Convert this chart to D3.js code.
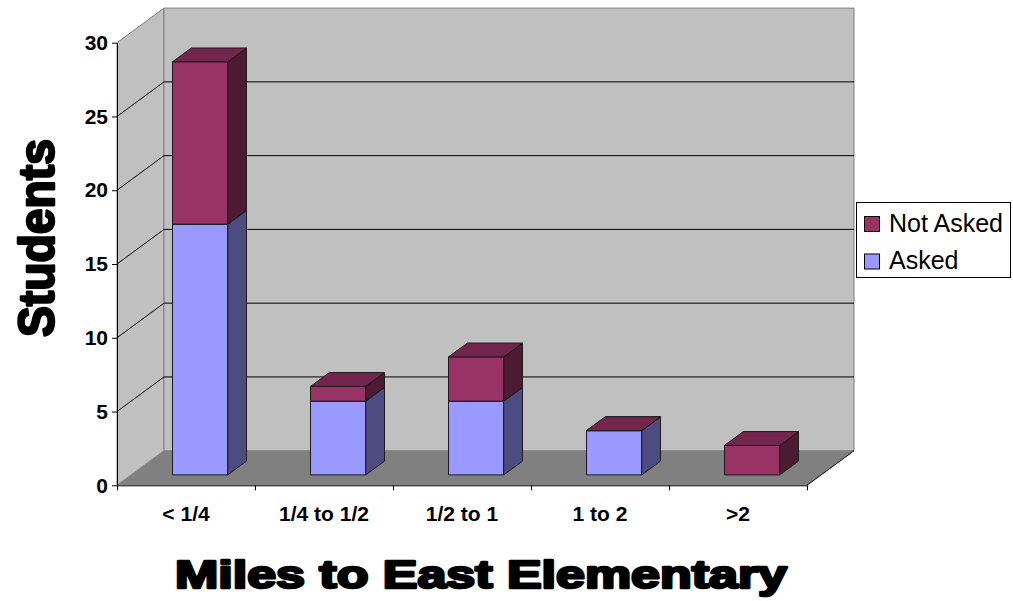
<!DOCTYPE html>
<html>
<head>
<meta charset="utf-8">
<script src="https://cdn.jsdelivr.net/npm/d3@7"></script>
<style>
  html, body { margin: 0; padding: 0; background: #ffffff; }
  svg { display: block; }
  text { font-family: Arial, "Liberation Sans", sans-serif; }
</style>
</head>
<body>
<svg id="chart" width="1013" height="601"></svg>
<script>
// Distance bands and the two answer groups
const categories = ["< 1/4", "1/4 to 1/2", "1/2 to 1", "1 to 2", ">2"];
const asked = [17, 5, 5, 3, 0];
const notAsked = [11, 1, 3, 0, 2];
const yTicks = [0, 5, 10, 15, 20, 25, 30];
const seriesNames = ["Asked", "Not Asked"];

const svg = d3.select("#chart");

// Front plane of the 3-D box and its depth offset
const x0 = 117, x1 = 807, yBase = 485.3, yTop = 42.7;
const DX = 47, DY = -34.6;
const proj = (x, y, z) => [x + z * DX, y + z * DY];

const x = d3.scaleBand().domain(categories).range([x0, x1])
  .paddingInner(0.6).paddingOuter(0.3);
const xEdge = d3.scaleLinear().domain([0, categories.length]).range([x0, x1]);
const y = d3.scaleLinear().domain([0, 30]).range([yBase, yTop]);

const colors = {
  "Asked":     { front: "#9999ff", side: "#4c4c80", top: "#7373bf" },
  "Not Asked": { front: "#993366", side: "#4d1a33", top: "#73264d" }
};

const poly = pts => pts.map(p => p.join(",")).join(" ");
const tickFont = 21;

// Walls and floor
const g = svg.append("g");
// side (left) wall
g.append("polygon")
  .attr("points", poly([proj(x0, y(30), 0), proj(x0, y(30), 1), proj(x0, y(0), 1), proj(x0, y(0), 0)]))
  .attr("fill", "#c0c0c0").attr("stroke", "#808080").attr("stroke-width", 1);
// back wall
g.append("polygon")
  .attr("points", poly([proj(x0, y(30), 1), proj(x1, y(30), 1), proj(x1, y(0), 1), proj(x0, y(0), 1)]))
  .attr("fill", "#c0c0c0").attr("stroke", "#808080").attr("stroke-width", 1);
// floor
g.append("polygon")
  .attr("points", poly([proj(x0, y(0), 0), proj(x1, y(0), 0), proj(x1, y(0), 1), proj(x0, y(0), 1)]))
  .attr("fill", "#808080").attr("stroke", "none");
g.append("line")
  .attr("x1", proj(x1, y(0), 0)[0]).attr("y1", proj(x1, y(0), 0)[1])
  .attr("x2", proj(x1, y(0), 1)[0]).attr("y2", proj(x1, y(0), 1)[1])
  .attr("stroke", "#000").attr("stroke-width", 1);

// gridlines on side and back walls
const grid = yTicks.filter(v => v > 0 && v < 30);
grid.forEach(v => {
  const a = proj(x0, y(v), 0), b = proj(x0, y(v), 1), c = proj(x1, y(v), 1);
  g.append("polyline").attr("points", poly([a, b, c]))
    .attr("fill", "none").attr("stroke", "#000").attr("stroke-width", 1);
});

// Y axis
svg.append("g")
  .attr("transform", `translate(${x0},0)`)
  .call(d3.axisLeft(y).tickValues(yTicks).tickSize(5).tickSizeOuter(0).tickPadding(4))
  .call(s => s.select(".domain").attr("stroke", "#000"))
  .call(s => s.selectAll("text").attr("font-size", tickFont).attr("font-weight", "bold").attr("fill", "#000")
    .attr("font-family", "Arial, 'Liberation Sans', sans-serif"));

// X axis: tick marks on band edges, labels centred in each band
svg.append("g")
  .attr("transform", `translate(0,${yBase})`)
  .call(d3.axisBottom(xEdge).tickValues(d3.range(categories.length + 1)).tickFormat("").tickSize(5).tickSizeOuter(0))
  .call(s => s.select(".domain").attr("stroke", "#000"));
svg.append("g")
  .attr("transform", `translate(0,${yBase})`)
  .call(d3.axisBottom(x).tickSize(0).tickPadding(21))
  .call(s => s.select(".domain").remove())
  .call(s => s.selectAll("text").attr("font-size", tickFont).attr("font-weight", "bold").attr("fill", "#000")
    .attr("font-family", "Arial, 'Liberation Sans', sans-serif"));

// Stacked 3-D columns
const stacked = d3.stack().keys(seriesNames)(categories.map((c, i) => ({
  cat: c, "Asked": asked[i], "Not Asked": notAsked[i]
})));

const zF = 0.3, zB = 0.7;
const bars = svg.append("g");
categories.forEach((cat, i) => {
  stacked.forEach(layer => {
    const d = layer[i];
    const col = colors[layer.key];
    const xl = x(cat), xr = x(cat) + x.bandwidth();
    const yb = y(d[0]), yt = y(d[1]);
    const face = (pts, fill) => bars.append("polygon").attr("points", poly(pts))
      .attr("fill", fill).attr("stroke", "#1a1a1a").attr("stroke-width", 1).attr("stroke-linejoin", "round");
    if (d[1] > d[0]) {
      face([proj(xl, yt, zF), proj(xr, yt, zF), proj(xr, yb, zF), proj(xl, yb, zF)], col.front);
      face([proj(xr, yt, zF), proj(xr, yt, zB), proj(xr, yb, zB), proj(xr, yb, zF)], col.side);
    }
    if (d[1] > 0) {
      face([proj(xl, yt, zF), proj(xr, yt, zF), proj(xr, yt, zB), proj(xl, yt, zB)], col.top);
    }
  });
});

// Legend
const lg = svg.append("g");
lg.append("rect").attr("x", 856.5).attr("y", 202.5).attr("width", 154).attr("height", 75)
  .attr("fill", "#fff").attr("stroke", "#000").attr("stroke-width", 1);
["Not Asked", "Asked"].forEach((name, k) => {
  const yy = 216.5 + k * 37.5;
  lg.append("rect").attr("x", 864.5).attr("y", yy).attr("width", 15).attr("height", 15)
    .attr("fill", colors[name].front).attr("stroke", "#000").attr("stroke-width", 1);
  lg.append("text").attr("x", 889).attr("y", yy + 15)
    .attr("font-size", 25).attr("fill", "#000").text(name);
});

// Axis titles
svg.append("text")
  .attr("transform", "translate(54,238) rotate(-90)")
  .attr("text-anchor", "middle")
  .attr("font-size", 50).attr("font-weight", "bold")
  .attr("fill", "#000").attr("stroke", "#000").attr("stroke-width", 2.5).attr("stroke-linejoin", "round")
  .attr("textLength", 198).attr("lengthAdjust", "spacingAndGlyphs")
  .text("Students");

svg.append("text")
  .attr("x", 481).attr("y", 588)
  .attr("text-anchor", "middle")
  .attr("font-size", 38).attr("font-weight", "bold")
  .attr("fill", "#000").attr("stroke", "#000").attr("stroke-width", 2.5).attr("stroke-linejoin", "round")
  .attr("textLength", 612).attr("lengthAdjust", "spacingAndGlyphs")
  .text("Miles to East Elementary");
</script>
</body>
</html>
